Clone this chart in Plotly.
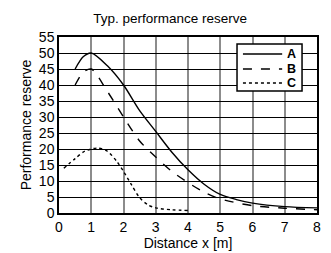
import plotly.graph_objects as go

# Data
a_x = [0.5, 0.75, 1.0, 1.5, 2.0, 2.5, 3.0, 3.5, 4.0, 4.5, 5.0, 5.5, 6.0, 7.0, 8.0]
a_y = [45, 48.8, 50, 46, 40, 32, 25.5, 19, 13.5, 9, 5.8, 4.2, 3.1, 2.0, 1.6]

b_x = [0.5, 0.75, 1.0, 1.5, 2.0, 2.5, 3.0, 3.5, 4.0, 4.5, 5.0, 6.0, 7.0, 8.0]
b_y = [40, 44, 45, 38, 30, 22.5, 17.5, 13, 9.5, 6.5, 4.4, 2.3, 1.5, 1.0]

c_x = [0.15, 0.5, 0.8, 1.2, 1.5, 1.8, 2.0, 2.25, 2.5, 2.75, 3.0, 3.5, 4.0]
c_y = [14, 17, 19.3, 20.3, 19.3, 16, 13, 8.8, 4.8, 2.6, 1.6, 1.0, 0.8]

series_names = ["A", "B", "C"]
x_ticks = [0, 1, 2, 3, 4, 5, 6, 7, 8]
y_ticks = [0, 5, 10, 15, 20, 25, 30, 35, 40, 45, 50, 55]

FONT = "Liberation Sans, Arial, sans-serif"
dashes = ["solid", "dash", "dot"]

fig = go.Figure()
for xs, ys, nm, dsh in zip([a_x, b_x, c_x], [a_y, b_y, c_y], series_names, dashes):
    fig.add_trace(go.Scatter(x=xs, y=ys, name=nm, mode="lines", showlegend=False,
                             line=dict(color="black", width=1.4, dash=dsh,
                                       shape="spline", smoothing=0.8)))

# Legend box drawn manually (paper coordinates)
shapes = [dict(type="rect", xref="paper", yref="paper", x0=0.690, x1=0.942, y0=0.693, y1=0.960,
               fillcolor="white", line=dict(color="black", width=1.5), layer="above")]
annotations = []
row_y = [0.903, 0.818, 0.739]
for nm, dsh, ry in zip(series_names, dashes, row_y):
    shapes.append(dict(type="line", xref="paper", yref="paper", x0=0.713, x1=0.865, y0=ry, y1=ry,
                       line=dict(color="black", width=1.4, dash=dsh), layer="above"))
    annotations.append(dict(text="<b>%s</b>" % nm, xref="paper", yref="paper", x=0.902, y=ry,
                            xanchor="center", yanchor="middle", showarrow=False,
                            font=dict(family=FONT, size=12.5, color="black")))

fig.update_layout(
    width=331, height=253,
    margin=dict(l=59, r=14, t=37, b=40),
    paper_bgcolor="white", plot_bgcolor="white",
    font=dict(family=FONT, size=14, color="black"),
    title=dict(text="Typ. performance reserve", x=0.514, xref="container", xanchor="center",
               y=1 - 18 / 253, yref="container", yanchor="middle",
               font=dict(family=FONT, size=13.5, color="black")),
    showlegend=False,
    shapes=shapes,
    annotations=annotations,
    xaxis=dict(range=[0, 8], tickvals=x_ticks, ticktext=[str(v) for v in x_ticks],
               showgrid=True, gridcolor="#8c8c8c", gridwidth=1.5,
               showline=True, linecolor="black", linewidth=1.5, mirror=True,
               zeroline=False, ticks="", ticklen=0, automargin=False,
               title=dict(text="Distance x [m]", standoff=2, font=dict(family=FONT, size=14))),
    yaxis=dict(range=[0, 55], tickvals=y_ticks, ticktext=[str(v) for v in y_ticks],
               showgrid=True, gridcolor="black", gridwidth=1,
               showline=True, linecolor="black", linewidth=1.5, mirror=True,
               zeroline=False, ticks="", ticklen=0, automargin=False,
               title=dict(text="Performance reserve", standoff=4, font=dict(family=FONT, size=14))),
)

fig.write_html("out.html", config={"displayModeBar": False},
               post_script="document.body.style.margin='0px';")
